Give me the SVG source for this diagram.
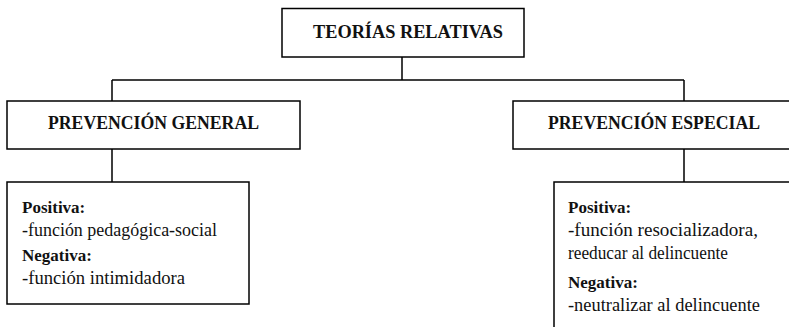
<svg xmlns="http://www.w3.org/2000/svg" width="789" height="327" viewBox="0 0 789 327">
  <style>
    .box { fill: #fff; stroke: #000; stroke-width: 1.5; }
    .conn { fill: none; stroke: #000; stroke-width: 1.5; }
    .hdr { font-family: 'Liberation Serif', serif; font-size: 18px; font-weight: bold; fill: #111; }
    .lbl { font-family: 'Liberation Serif', serif; font-size: 17px; font-weight: bold; fill: #111; }
    .txt { font-family: 'Liberation Serif', serif; font-size: 18px; fill: #111; }
  </style>
  <rect width="789" height="327" fill="#fff"/>
  <g id="connectors">
    <path class="conn" d="M402,57 V80 M112,80 H684 M112,80 V101 M684,80 V101 M112,149 V182 M684,149 V182"/>
  </g>
  <g id="teorias-relativas">
    <rect class="box" x="282" y="8.5" width="242" height="48.5"/>
    <text class="hdr" x="313" y="38" textLength="190" lengthAdjust="spacingAndGlyphs">TEORÍAS RELATIVAS</text>
  </g>
  <g id="prevencion-general">
    <rect class="box" x="7" y="101" width="293" height="48"/>
    <text class="hdr" x="48" y="129" textLength="211" lengthAdjust="spacingAndGlyphs">PREVENCIÓN GENERAL</text>
  </g>
  <g id="prevencion-especial">
    <rect class="box" x="513" y="101" width="290" height="48"/>
    <text class="hdr" x="548" y="129" textLength="212" lengthAdjust="spacingAndGlyphs">PREVENCIÓN ESPECIAL</text>
  </g>
  <g id="general-detalle">
    <rect class="box" x="7" y="182" width="242" height="122"/>
    <text class="lbl" x="22" y="213">Positiva:</text>
    <text class="txt" x="22" y="236" textLength="195" lengthAdjust="spacingAndGlyphs">-función pedagógica-social</text>
    <text class="lbl" x="22" y="261">Negativa:</text>
    <text class="txt" x="22" y="284" textLength="163" lengthAdjust="spacingAndGlyphs">-función intimidadora</text>
  </g>
  <g id="especial-detalle">
    <rect class="box" x="554" y="182" width="250" height="160"/>
    <text class="lbl" x="568" y="213">Positiva:</text>
    <text class="txt" x="568" y="236" textLength="190" lengthAdjust="spacingAndGlyphs">-función resocializadora,</text>
    <text class="txt" x="568" y="259" textLength="160" lengthAdjust="spacingAndGlyphs">reeducar al delincuente</text>
    <text class="lbl" x="568" y="288">Negativa:</text>
    <text class="txt" x="568" y="311" textLength="192" lengthAdjust="spacingAndGlyphs">-neutralizar al delincuente</text>
  </g>
</svg>
